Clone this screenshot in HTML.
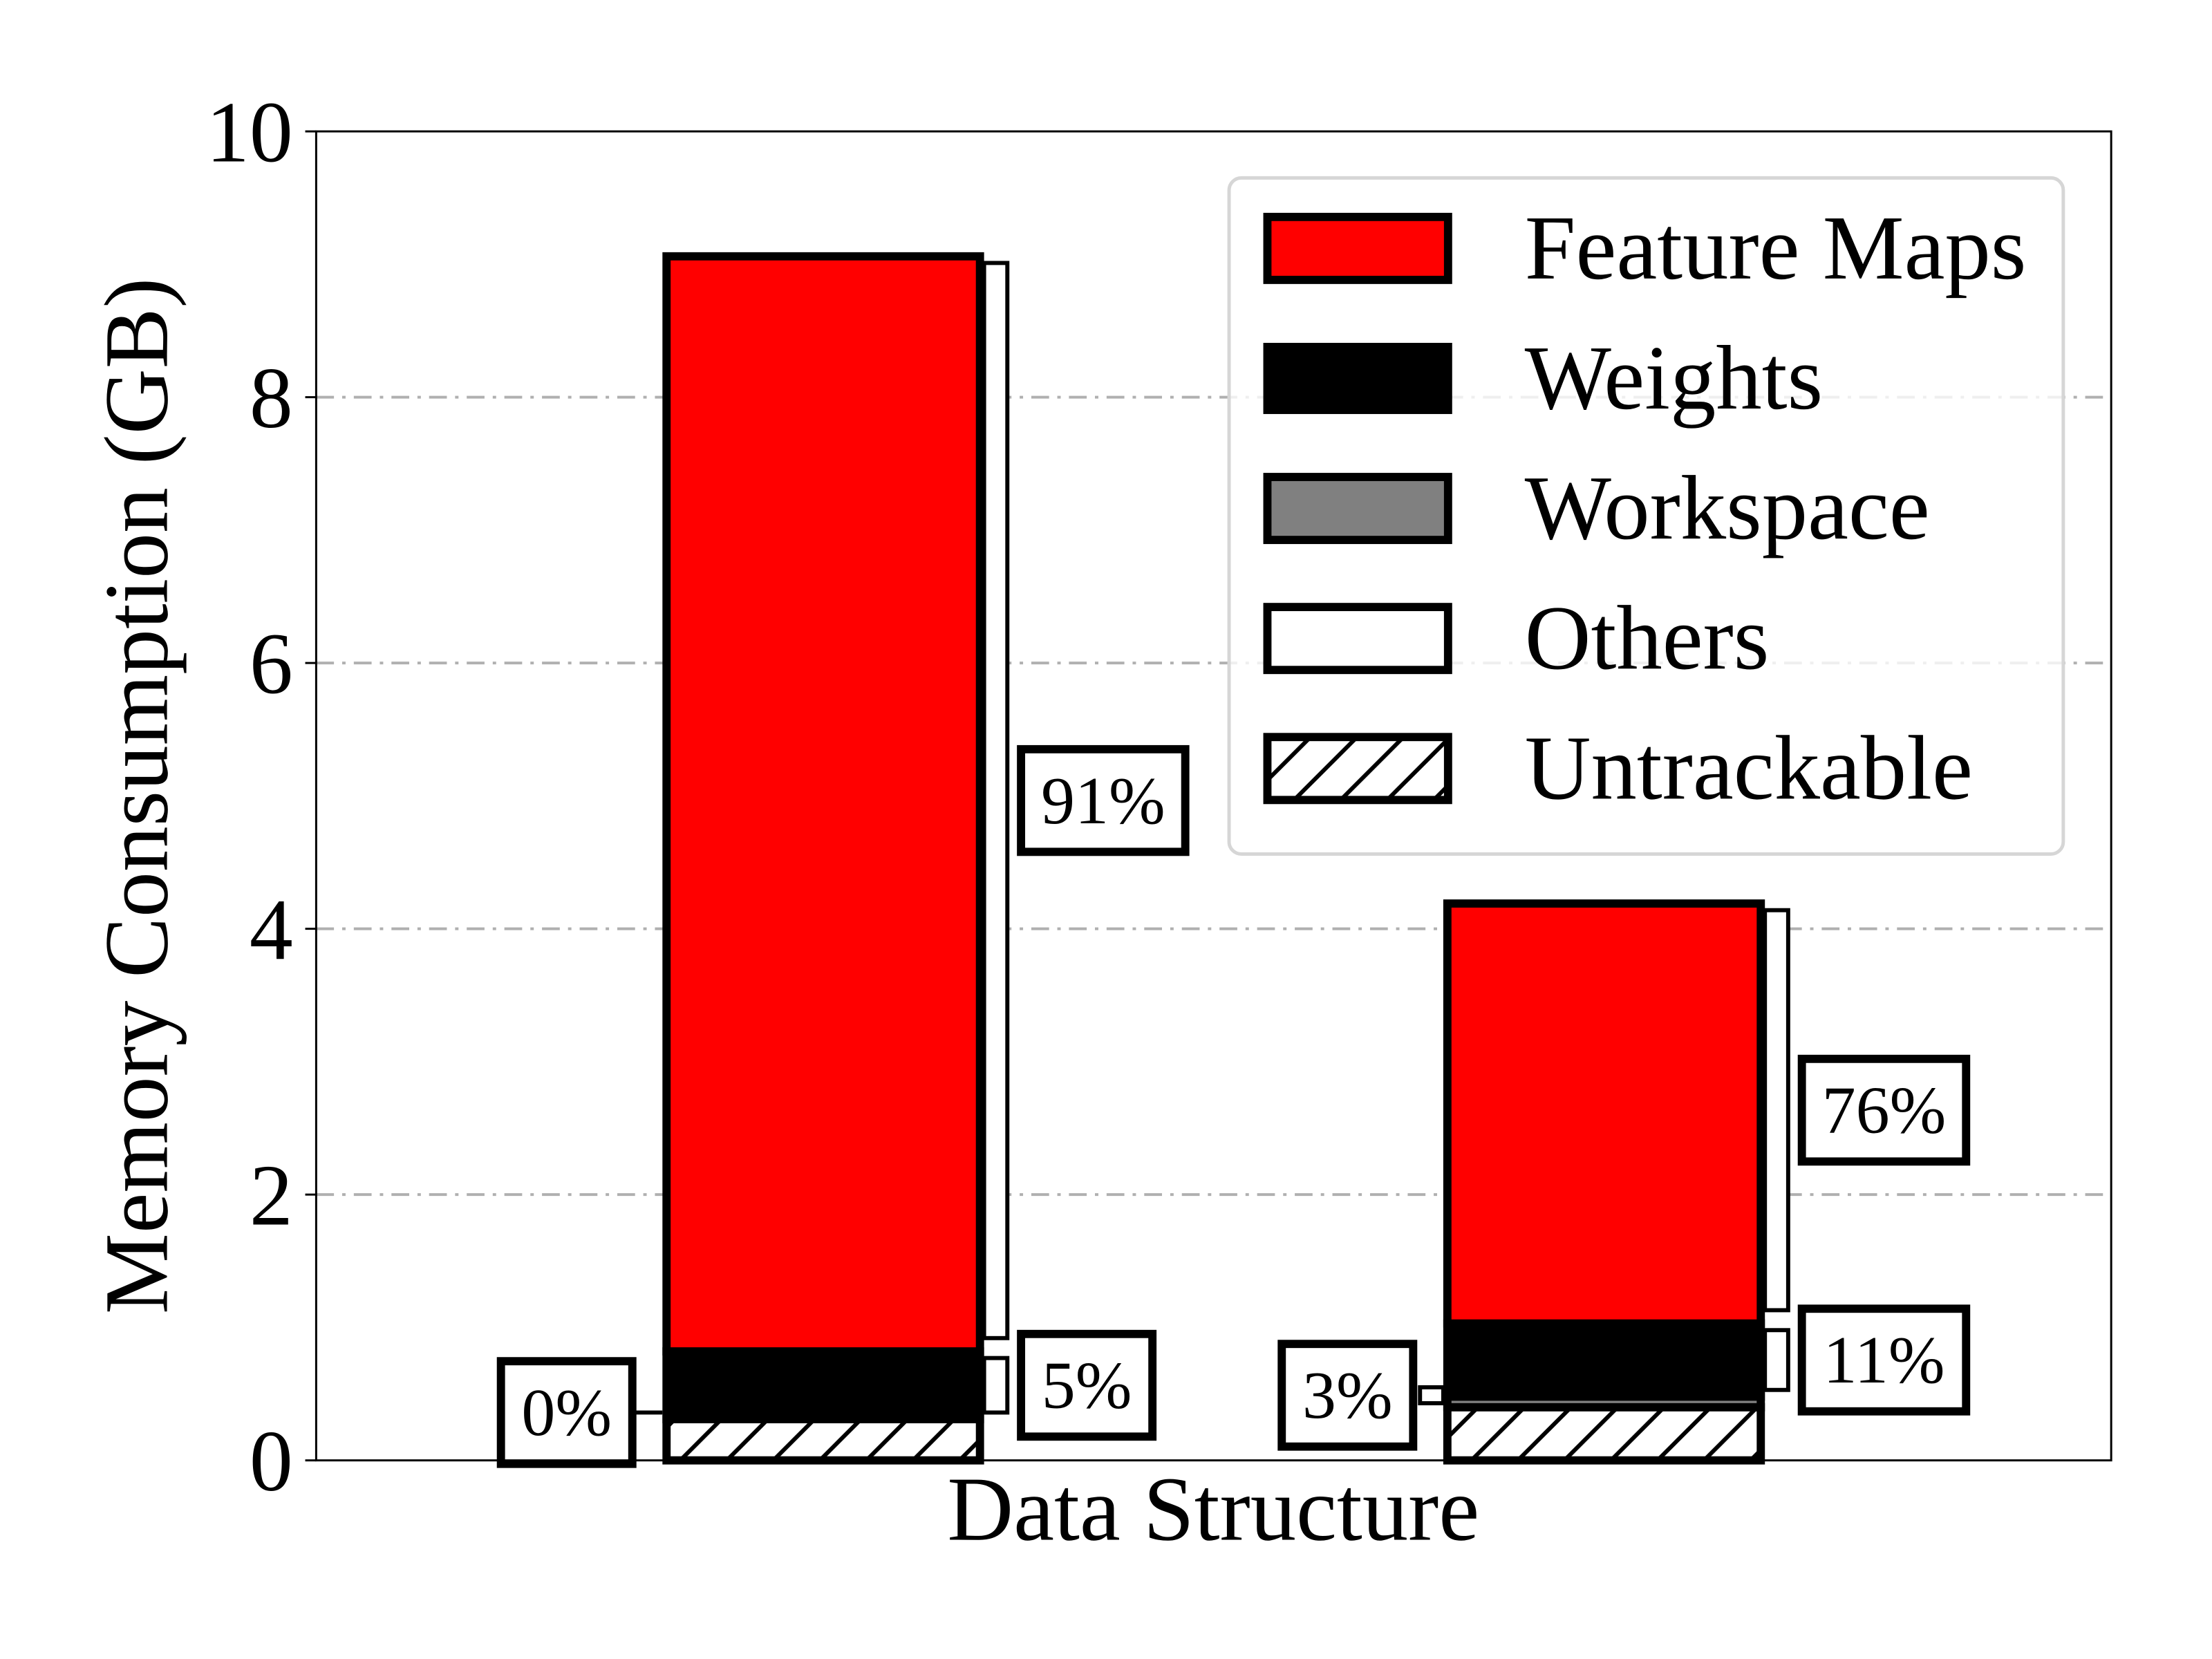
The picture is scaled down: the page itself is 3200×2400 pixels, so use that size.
<!DOCTYPE html>
<html><head><meta charset="utf-8"><style>
html,body{margin:0;padding:0;background:#fff;}
svg{display:block;font-family:"Liberation Serif",serif;}
</style></head><body>
<svg id="chart" width="3200" height="2400" viewBox="0 0 3200 2400" xmlns="http://www.w3.org/2000/svg">
<defs>
<pattern id="hatch" patternUnits="userSpaceOnUse" width="68" height="68">
<path d="M-17,17 L17,-17 M0,68 L68,0 M51,85 L85,51" stroke="#000" stroke-width="6"/>
</pattern>
</defs>
<g transform="scale(0.99)">
<g id="grid"></g>
<g id="bars"></g>
<g id="axes"></g>
<g id="legend"></g>
</g>
</svg>
<script>
const categories = ["Config A", "Config B"];
const untrackable = [0.31, 0.40];
const workspace = [0.0, 0.08];
const weights = [0.51, 0.55];
const featureMaps = [8.24, 3.16];
const fmLabels = ["91%", "76%"];
const wLabels = ["5%", "11%"];
const wsLabels = ["0%", "3%"];
const yTicks = [0, 2, 4, 6, 8, 10];

const NS = "http://www.w3.org/2000/svg";
const L = 462, R = 3085, T = 192, B = 2134;
const yMax = 10;
function y(v){ return B - v / yMax * (B - T); }
const barCenters = [1203, 2344];
const barW = 458;
function mk(tag, attrs, parent){
  const e = document.createElementNS(NS, tag);
  for (const k in attrs) e.setAttribute(k, attrs[k]);
  parent.appendChild(e); return e;
}
const grid = document.getElementById('grid');
const bars = document.getElementById('bars');
const axes = document.getElementById('axes');
const legend = document.getElementById('legend');

yTicks.forEach(t => {
  if (t > 0 && t < yMax) {
    const g = mk('line', {x1:L, x2:R, y1:y(t), y2:y(t), stroke:'#b0b0b0', 'stroke-width':4, 'stroke-dasharray':'26 12 5 12'}, grid);
    
    
  }
  const tk = mk('line', {x1:L-16, x2:L, y1:y(t), y2:y(t), stroke:'#000', 'stroke-width':3}, axes);
  
  
  const tl = mk('text', {x:L-34, y:y(t)+44, 'text-anchor':'end', 'font-size':127}, axes);
  tl.textContent = t;
  
  
});

function labelBox(cx, cy, text, name){
  const w = text.length >= 3 ? 240 : 192, h = 150;
  const g = mk('g', {}, bars);
  
  
  mk('rect', {x:cx - w/2, y:cy - h/2, width:w, height:h, fill:'#fff', stroke:'#000', 'stroke-width':12}, g);
  const t = mk('text', {x:cx, y:cy + 33, 'text-anchor':'middle', 'font-size':99}, g);
  t.textContent = text;
}
function bracket(x1, x2, v0, v1, name){
  const b = mk('rect', {x:x1, y:y(v1), width:x2-x1, height:y(v0)-y(v1), fill:'#fff', stroke:'#000', 'stroke-width':6}, bars);
  
  
}

categories.forEach((c, i) => {
  const x0 = barCenters[i] - barW/2, x1 = barCenters[i] + barW/2;
  const segs = [
    [untrackable[i], 'url(#hatch)', 'untrackable'],
    [workspace[i], '#808080', 'workspace'],
    [weights[i], '#000', 'weights'],
    [featureMaps[i], '#ff0000', 'feature-maps']
  ];
  let base = 0;
  const bounds = [];
  segs.forEach(s => {
    bounds.push([base, base + s[0]]);
    if (s[0] > 0) {
      const r = mk('rect', {x:x0, y:y(base + s[0]), width:barW, height:y(base) - y(base + s[0]), fill:s[1], stroke:'#000', 'stroke-width':12}, bars);
      
      
    }
    base += s[0];
  });
  const bx1 = x1 + 6, bx2 = x1 + 40;
  const inset = 0.05;
  const fm = bounds[3];
  bracket(bx1, bx2, fm[0] + inset*2, fm[1] - inset, 'bracket-feature-maps-' + (i+1));
  labelBox(bx2 + 20 + (fmLabels[i].length >= 3 ? 120 : 96), y((fm[0] + fm[1]) / 2 + inset/2), fmLabels[i], 'label-feature-maps-' + (i+1));
  const w = bounds[2];
  bracket(bx1, bx2, w[0] + inset, w[1] - inset, 'bracket-weights-' + (i+1));
  labelBox(bx2 + 20 + (wLabels[i].length >= 3 ? 120 : 96), y((w[0] + w[1]) / 2), wLabels[i], 'label-weights-' + (i+1));
  const ws = bounds[1];
  const mid = (ws[0] + ws[1]) / 2 + 0.05;
  if (workspace[i] > 0) {
    bracket(x0 - 40, x0 - 6, mid - 0.06, mid + 0.06, 'bracket-workspace-' + (i+1));
  } else {
    const ln = mk('line', {x1:x0 - 50, x2:x0 - 6, y1:y(mid), y2:y(mid), stroke:'#000', 'stroke-width':6}, bars);
    
    
  }
  labelBox(x0 - 50 - 96, y(mid), wsLabels[i], 'label-workspace-' + (i+1));
});

const frame = mk('rect', {x:L, y:T, width:R-L, height:B-T, fill:'none', stroke:'#000', 'stroke-width':3}, axes);


const yt = mk('text', {x:0, y:0, 'text-anchor':'middle', 'font-size':133, transform:'translate(244,1163) rotate(-90)'}, axes);
yt.textContent = 'Memory Consumption (GB)';


const xt = mk('text', {x:1773, y:2250, 'text-anchor':'middle', 'font-size':134}, axes);
xt.textContent = 'Data Structure';



const lb = mk('rect', {x:1796, y:260, width:1219, height:988, rx:18, fill:'#fff', 'fill-opacity':0.8, stroke:'#d6d6d6', 'stroke-width':5}, legend);


const legItems = [['Feature Maps', '#ff0000'], ['Weights', '#000'], ['Workspace', '#808080'], ['Others', '#fff'], ['Untrackable', 'url(#hatch)']];
legItems.forEach((it, k) => {
  const cy = 363 + k * 190;
  const g = mk('g', {}, legend);
  
  
  mk('rect', {x:1852, y:cy - 46, width:264, height:92, fill:it[1], stroke:'#000', 'stroke-width':12}, g);
  const t = mk('text', {x:2228, y:cy + 44, 'font-size':134}, g);
  t.textContent = it[0];
});
</script>
</body></html>
